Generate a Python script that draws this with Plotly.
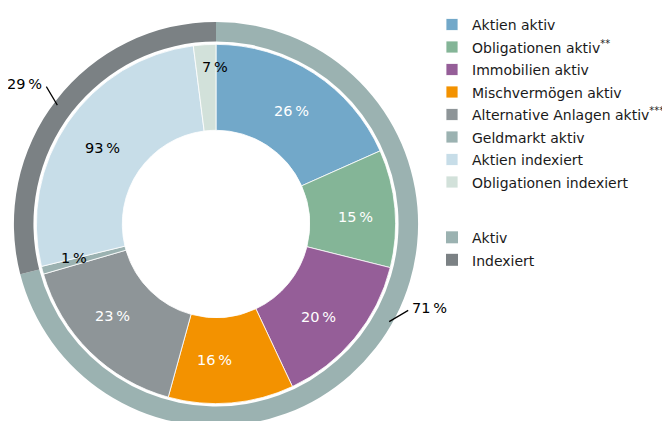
import math
import plotly.graph_objects as go

# inner donut: share of each category within its group (%)
categories = ["Aktien aktiv", "Obligationen aktiv<sup>**</sup>", "Immobilien aktiv",
              "Mischvermögen aktiv", "Alternative Anlagen aktiv<sup>***</sup>",
              "Geldmarkt aktiv", "Aktien indexiert", "Obligationen indexiert"]
category_group = [0, 0, 0, 0, 0, 0, 1, 1]
within_pct = [26, 15, 20, 16, 23, 1, 93, 7]
colors = ["#72a8c9", "#84b597", "#955e98", "#f39200", "#8e9598",
          "#9bb2b1", "#c7dde8", "#d2e1da"]
label_colors = ["white", "white", "white", "white", "white", "black", "black", "black"]

# outer ring: Aktiv vs. Indexiert (%)
groups = ["Aktiv", "Indexiert"]
group_pct = [71, 29]
group_colors = ["#9bb2b1", "#7b8184"]

W, H = 670, 421
FONT = "DejaVu Sans, Verdana, sans-serif"
PAGE = 8   # default body margin of the html page

# geometry (pixels, figure coordinates)
cx, cy = 216 - PAGE, 219 - PAGE
r_outer, r_ring_in = 207, 187
r_inner, r_hole = 184, 96


def dom(r):
    return dict(x=[(cx - r) / W, (cx + r) / W],
                y=[(H - cy - r) / H, (H - cy + r) / H])


def to_paper(px, py):
    return px / W, 1 - py / H


def polar(r, ang):
    a = math.radians(ang)
    return cx + r * math.sin(a), cy - r * math.cos(a)


def small(t):
    return f'<span style="font-size:14px">{t}</span>'


inner_values = [group_pct[g] * p / 100 for g, p in zip(category_group, within_pct)]

fig = go.Figure()

fig.add_trace(go.Pie(
    labels=[small(g) for g in groups], values=group_pct, sort=False,
    direction="clockwise", rotation=0,
    hole=r_ring_in / r_outer, domain=dom(r_outer),
    marker=dict(colors=group_colors, line=dict(width=0)),
    textinfo="none", hoverinfo="label+percent", legend="legend2",
))

fig.add_trace(go.Pie(
    labels=[small(c) for c in categories],
    values=inner_values, sort=False, direction="clockwise", rotation=0,
    hole=r_hole / r_inner, domain=dom(r_inner),
    marker=dict(colors=colors, line=dict(color="white", width=0.8)),
    textinfo="none", hoverinfo="label", legend="legend",
))

# percentage labels inside the donut (radius and small angle nudge per label)
label_r = [138, 140, 140, 139, 140, 146, 138, 161]
label_nudge = [0, 2, 3.5, 5.5, 3, 1.2, 0, 3.3]
total = sum(inner_values)
cum = 0
for v, p, col, r, nd in zip(inner_values, within_pct, label_colors, label_r, label_nudge):
    mid = (cum + v / 2) / total * 360 + nd
    cum += v
    x, y = to_paper(*polar(r, mid))
    fig.add_annotation(x=x, y=y, xref="paper", yref="paper", showarrow=False,
                       xanchor="center", yanchor="middle",
                       text=f"{p}\u2009%", font=dict(family=FONT, size=14.5, color=col))

# outer ring labels with leader lines
tip_angle = [120, 307.5]
end_offset = [(19, -11.5), (-11, -19)]
text_offset = [(3, -2), (-3, -3)]
anchors = ["left", "right"]
for pct, ang, (dx, dy), (tx, ty), anc in zip(group_pct, tip_angle, end_offset, text_offset, anchors):
    x0, y0 = polar(200, ang)
    x1, y1 = x0 + dx, y0 + dy
    p0, p1 = to_paper(x0, y0), to_paper(x1, y1)
    fig.add_shape(type="line", xref="paper", yref="paper",
                  x0=p0[0], y0=p0[1], x1=p1[0], y1=p1[1],
                  line=dict(color="black", width=1.2))
    px, py = to_paper(x1 + tx, y1 + ty)
    fig.add_annotation(x=px, y=py, xref="paper", yref="paper", showarrow=False,
                       xanchor=anc, yanchor="middle", borderpad=0,
                       text=f"{pct}\u2009%", font=dict(family=FONT, size=14.5, color="black"))

fig.update_layout(
    width=W, height=H,
    margin=dict(l=0, r=0, t=0, b=0),
    paper_bgcolor="white", plot_bgcolor="white",
    font=dict(family=FONT, size=14, color="#1a1a1a"),
    showlegend=True,
    legend=dict(x=424 / W, y=1 + 10 / H, xanchor="left", yanchor="top",
                font=dict(size=15), itemwidth=30, bgcolor="rgba(0,0,0,0)",
                traceorder="normal"),
    legend2=dict(x=424 / W, y=1 - 208 / H, xanchor="left", yanchor="top",
                 font=dict(size=15), itemwidth=30, bgcolor="rgba(0,0,0,0)"),
)

fig.write_html("out.html")
